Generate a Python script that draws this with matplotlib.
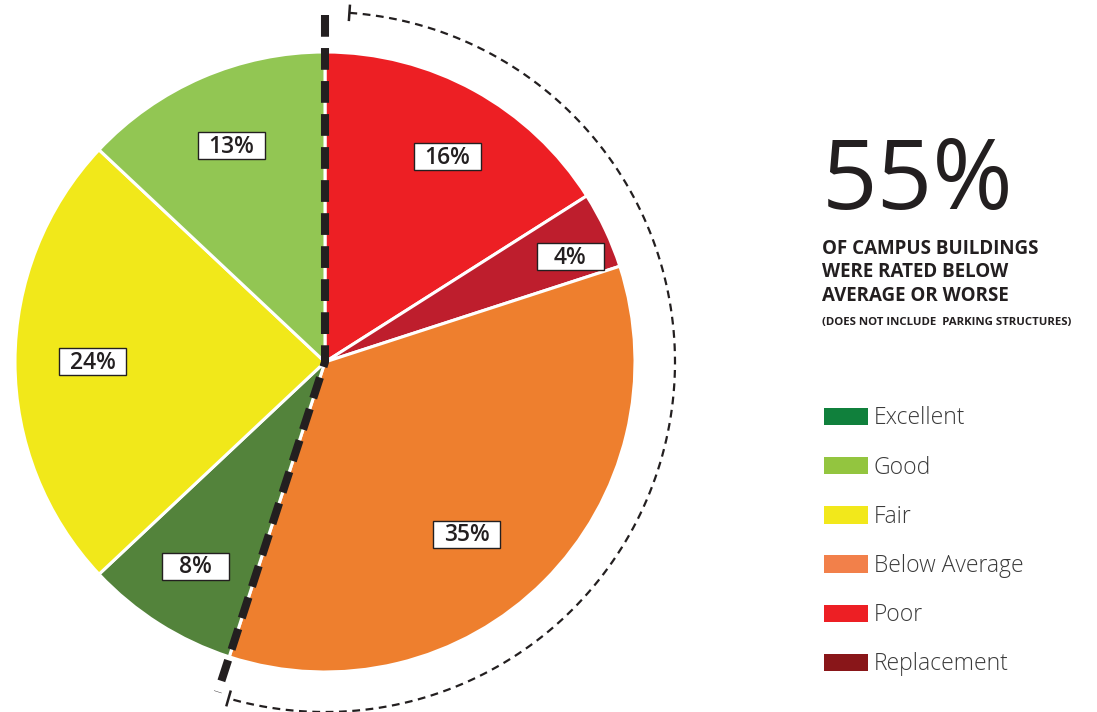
'''
Campus building condition pie chart
'''

import matplotlib.pyplot as plt
from matplotlib.patches import Patch, Rectangle
import numpy as np

# slices, clockwise from 12 o'clock
slice_names = ['Poor', 'Replacement', 'Below Average', 'Excellent', 'Fair', 'Good']
slice_values = [16, 4, 35, 8, 24, 13]
slice_colors = ['#ed1f24', '#be1e2d', '#ee7f2e', '#53833b', '#f1e81a', '#92c653']
label_dist = [0.77, 0.86, 0.72, 0.78, 0.75, 0.76]
label_turn = [-2, -2, -5.5, 0, 0, 0]  # degrees off the slice middle

legend_names = ['Excellent', 'Good', 'Fair', 'Below Average', 'Poor', 'Replacement']
legend_colors = ['#10803c', '#93c53f', '#f2e81b', '#f2804a', '#ed1f24', '#891619']

headline = '55%'
subtitle = 'OF CAMPUS BUILDINGS\nWERE RATED BELOW\nAVERAGE OR WORSE'
footnote = '(DOES NOT INCLUDE  PARKING STRUCTURES)'

W, H = 1097, 712
center = (325, H - 362)
radius = 310
ink = '#231f20'

plt.rcParams['font.family'] = ['Open Sans', 'DejaVu Sans']

fig = plt.figure(figsize=(W / 100, H / 100), dpi=100)
ax = fig.add_axes([0, 0, 1, 1])

wedges, _ = ax.pie(slice_values, colors=slice_colors, startangle=90,
                   counterclock=False, center=center, radius=radius,
                   wedgeprops=dict(edgecolor='white', linewidth=2.2))
ax.set_xlim(0, W)
ax.set_ylim(0, H)
ax.set_aspect('equal')
ax.axis('off')

# percent labels in fixed-size boxes
bw, bh = 67, 27
for w, val, d, turn in zip(wedges, slice_values, label_dist, label_turn):
    mid = np.deg2rad((w.theta1 + w.theta2) / 2 + turn)
    x = center[0] + d * radius * np.cos(mid)
    y = center[1] + d * radius * np.sin(mid)
    ax.add_patch(Rectangle((x - bw / 2, y - bh / 2), bw, bh, fc='white', ec=ink,
                           lw=1, zorder=6))
    ax.text(x, y - 1, f'{val}%', ha='center', va='center', fontsize=16.5,
            fontweight='semibold', color=ink, zorder=7)

# thick dashed split line (below average or worse share)
share = sum(slice_values[:3]) / sum(slice_values)
split_ang = np.deg2rad(90 - share * 360)
r_out = 347
xs = [center[0], center[0], center[0] + r_out * np.cos(split_ang)]
ys = [center[1] + r_out, center[1], center[1] + r_out * np.sin(split_ang)]
ax.plot(xs, ys, color=ink, lw=5.8, dashes=(2.7, 1.4), solid_capstyle='butt',
        dash_capstyle='butt', zorder=5)

# thin dashed arc around the share
r_arc = 350
a0, a1 = 86, np.rad2deg(split_ang) + 2
t = np.deg2rad(np.linspace(a0, a1, 300))
ax.plot(center[0] + r_arc * np.cos(t), center[1] + r_arc * np.sin(t),
        color=ink, lw=1.6, dashes=(3.5, 2.5), zorder=5)
for a in (a0, a1):
    ar = np.deg2rad(a)
    rr = np.array([r_arc - 7, r_arc + 7])
    ax.plot(center[0] + rr * np.cos(ar), center[1] + rr * np.sin(ar),
            color=ink, lw=1.8, zorder=5)

# headline text
ax.text(822, H - 184, headline, fontsize=70, color=ink, va='center', ha='left')
ax.text(822, H - 239, subtitle, fontsize=13.5, fontweight='bold', color=ink,
        va='top', ha='left', linespacing=1.22)
ax.text(822, H - 323, footnote, fontsize=8.2, fontweight='bold', color=ink,
        va='center', ha='left')

handles = [Patch(facecolor=c, edgecolor='none') for c in legend_colors]
ax.legend(handles, legend_names, loc='upper left', bbox_to_anchor=(813 / W, 1 - 395 / H),
          frameon=False, handlelength=1.9, handleheight=0.8,
          handletextpad=0.25, labelspacing=1.1, labelcolor='#3a3a3a', borderpad=0,
          prop={'weight': 'light', 'size': 16.5})

fig.savefig('out.png', dpi=100)
